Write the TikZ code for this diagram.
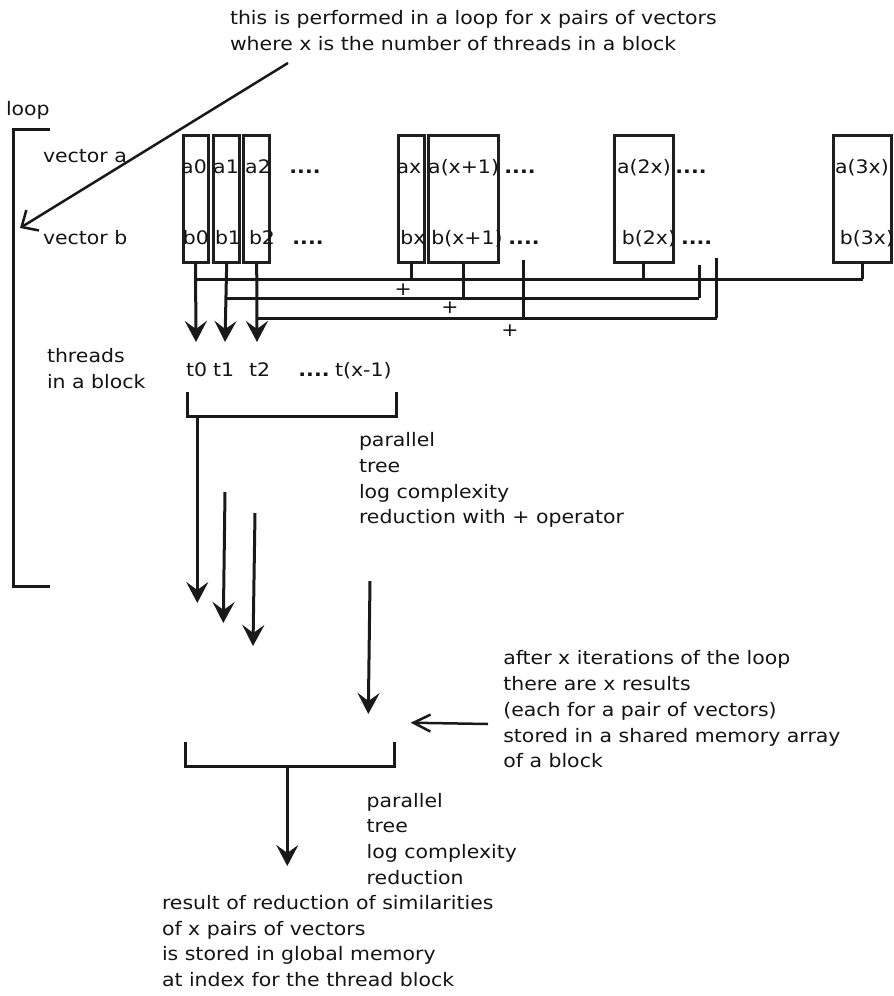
\documentclass[tikz,border=0pt]{standalone}
\usepackage{fontspec}
\setmainfont{DejaVu Sans}[FakeStretch=1.1]
\usetikzlibrary{arrows.meta}
\begin{document}
\begin{tikzpicture}[x=1pt,y=-1pt,
  every node/.style={inner sep=0pt, outer sep=0pt, text=black!92, font=\fontsize{18.6}{25.7}\selectfont},
  txt/.style={anchor=north west, align=left},
  lbl/.style={anchor=base},
  dots/.style={anchor=base, font=\fontsize{18.6}{25.7}\selectfont\bfseries},
  vbox/.style={draw=black!88, line width=3pt, minimum width=#1, minimum height=127pt},
  ln/.style={draw=black!90, line width=3pt},
  farrow/.style={ln, -{Stealth[length=21pt,width=22pt,inset=8pt]}},
  oarrow/.style={draw=black!90, line width=2.5pt, -{Straight Barb[length=17pt,width=17pt]}},
  larrow/.style={draw=black!90, line width=2.5pt, -{Straight Barb[length=13pt,width=24pt]}},
]
\useasboundingbox (0,0) rectangle (894,996);

% top note and loop
\node[txt] (note) at (230,10.8) {this is performed in a loop for x pairs of vectors\\where x is the number of threads in a block};
\node[anchor=base west] (loop) at (6,115.5) {loop};
\coordinate (lp1) at (50,129);
\coordinate (lp2) at (13,129);
\coordinate (lp3) at (13,586);
\coordinate (lp4) at (50,586);
\draw[ln] (lp1) -- (lp2) -- (lp3) -- (lp4);
\coordinate (ns) at (288,63);
\coordinate (ne) at (20,228);
\draw[larrow] (ns) -- (ne);

\node[anchor=base west] (va) at (43,162.7) {vector a};
\node[anchor=base west] (vb) at (43,244) {vector b};

% vector boxes
\node[vbox=25pt] (B0) at (195.5,199) {};
\node[vbox=26pt] (B1) at (226.7,199) {};
\node[vbox=26pt] (B2) at (256.7,199) {};
\node[vbox=26pt] (Bx) at (411.3,199) {};
\node[vbox=70pt] (Bx1) at (463.3,199) {};
\node[vbox=59pt] (B2x) at (643.8,198.5) {};
\node[vbox=58pt] (B3x) at (862.5,198.5) {};

% labels
\node[lbl] (la0) at (194,173) {a0};
\node[lbl] (lb0) at (196,244) {b0};
\node[lbl] (la1) at (226,173) {a1};
\node[lbl] (lb1) at (228,244) {b1};
\node[lbl] (la2) at (258,173) {a2};
\node[lbl] (lb2) at (262,244) {b2};
\node[dots] (da1) at (305,173) {....};
\node[dots] (db1) at (308,244) {....};
\node[lbl] (lax) at (409,173) {ax};
\node[lbl] (lbx) at (413,244) {bx};
\node[lbl] (lax1) at (463.6,173) {a(x+1)};
\node[lbl] (lbx1) at (467,244) {b(x+1)};
\node[dots] (da2) at (520,173) {....};
\node[dots] (db2) at (524,244) {....};
\node[lbl] (la2x) at (644,173) {a(2x)};
\node[lbl] (lb2x) at (649,244) {b(2x)};
\node[dots] (da3) at (691,173) {....};
\node[dots] (db3) at (696.6,244) {....};
\node[lbl] (la3x) at (862,173) {a(3x)};
\node[lbl] (lb3x) at (867,244) {b(3x)};

% summing lines
\coordinate (h1s) at (195.5,279);
\coordinate (h1e) at (862.5,279);
\draw[ln] (h1s) -- (h1e);
\draw[ln] (Bx.south) -- (Bx.south |- h1s);
\draw[ln] (B2x.south) -- (B2x.south |- h1s);
\draw[ln] (B3x.south) -- (h1e);

\coordinate (h2s) at (226.7,298);
\coordinate (h2e) at (699,298);
\coordinate (c2) at (699,265);
\draw[ln] (h2s) -- (h2e);
\draw[ln] (Bx1.south) -- (Bx1.south |- h2s);
\draw[ln] (c2) -- (h2e);

\coordinate (h3s) at (256.7,318);
\coordinate (h3e) at (716.7,318);
\coordinate (c3a) at (523,260);
\coordinate (c3b) at (523,318);
\coordinate (c3c) at (716.7,258);
\draw[ln] (h3s) -- (h3e);
\draw[ln] (c3a) -- (c3b);
\draw[ln] (c3c) -- (h3e);

\node (p1) at (403.3,289.3) {+};
\node (p2) at (450,307.3) {+};
\node (p3) at (510,331) {+};

% thread arrows
\coordinate (a0e) at (196,342);
\coordinate (a1e) at (225,342);
\coordinate (a2e) at (257,342);
\draw[farrow] (B0.south) -- (a0e);
\draw[farrow] (B1.south) -- (a1e);
\draw[farrow] (B2.south) -- (a2e);

% threads
\node[txt] (thr) at (47,348.5) {threads\\in a block};
\node[anchor=base west] (t0) at (186,376) {t0};
\node[anchor=base west] (t1) at (213,376) {t1};
\node[anchor=base west] (t2) at (249,376) {t2};
\node[dots] (td) at (314,376) {....};
\node[anchor=base west] (tx) at (335,376) {t(x-1)};

% bracket 1
\coordinate (k1a) at (187.3,392);
\coordinate (k1b) at (187.3,416.7);
\coordinate (k1c) at (396.7,416.7);
\coordinate (k1d) at (396.7,392);
\draw[ln] (k1a) -- (k1b) -- (k1c) -- (k1d);
\node[txt] (par1) at (359,432.5) {parallel\\tree\\log complexity\\reduction with + operator};

\coordinate (k1m) at (197.3,416.7);
\coordinate (r0e) at (197.3,603);
\coordinate (r1s) at (225,492);
\coordinate (r1e) at (223.3,623);
\coordinate (r2s) at (255,513);
\coordinate (r2e) at (253,646);
\coordinate (r3s) at (370,581);
\coordinate (r3e) at (368.3,714);
\draw[farrow] (k1m) -- (r0e);
\draw[farrow] (r1s) -- (r1e);
\draw[farrow] (r2s) -- (r2e);
\draw[farrow] (r3s) -- (r3e);

% results note
\node[txt] (after) at (503.3,650.8) {after x iterations of the loop\\there are x results\\(each for a pair of vectors)\\stored in a shared memory array\\of a block};
\coordinate (oa1) at (488,724);
\coordinate (oa2) at (410.7,722.7);
\draw[oarrow] (oa1) -- (oa2);

% bracket 2
\coordinate (k2a) at (185,741.7);
\coordinate (k2b) at (185,766);
\coordinate (k2c) at (394,766);
\coordinate (k2d) at (394,741.7);
\draw[ln] (k2a) -- (k2b) -- (k2c) -- (k2d);
\coordinate (k2m) at (287.3,766);
\coordinate (fe) at (287.3,866);
\draw[farrow] (k2m) -- (fe);
\node[txt] (par2) at (366.7,793.1) {parallel\\tree\\log complexity\\reduction};

\node[txt] (res) at (162,895.3) {result of reduction of similarities\\of x pairs of vectors\\is stored in global memory\\at index for the thread block};
\end{tikzpicture}
\end{document}
